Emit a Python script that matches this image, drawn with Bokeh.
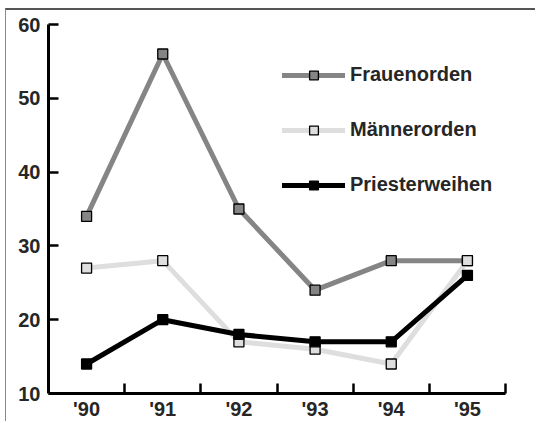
from bokeh.plotting import figure
from bokeh.models import FixedTicker, Range1d, Legend
from bokeh.embed import file_html
from bokeh.resources import INLINE

years = ["'90", "'91", "'92", "'93", "'94", "'95"]
frauenorden = [34, 56, 35, 24, 28, 28]
maennerorden = [27, 28, 17, 16, 14, 28]
priesterweihen = [14, 20, 18, 17, 17, 26]
y_ticks = [10, 20, 30, 40, 50, 60]

xs = [i + 0.5 for i in range(len(years))]

p = figure(width=530, height=413, output_backend="svg", toolbar_location=None,
           x_range=Range1d(0, len(years)), y_range=Range1d(10, 60),
           min_border_left=42, min_border_right=31, min_border_top=14, min_border_bottom=30,
           styles={"margin-left": "5px", "margin-top": "8px",
                   "border-left": "1px solid #8a8a8a", "border-top": "2px solid #555"})
p.outline_line_color = None
p.xgrid.visible = False
p.ygrid.visible = False
p.background_fill_color = "white"
p.border_fill_color = "white"

FONT = "Liberation Sans"
FSIZE = "20px"
TCOL = "#262626"

series = [
    ("Frauenorden", frauenorden, "#858585", "#858585", 5),
    ("Männerorden", maennerorden, "#dedede", "#dedede", 5),
    ("Priesterweihen", priesterweihen, "#000000", "#000000", 5),
]
items = []
for name, vals, lc, fc, lw in series:
    r1 = p.line(xs, vals, line_color=lc, line_width=lw, line_join="round", line_cap="round")
    r2 = p.scatter(xs, vals, marker="square", size=10, fill_color=fc, line_color="black", line_width=1.3)
    items.append((name, [r1, r2]))

legend = Legend(items=items, location=(234, 197), orientation="vertical")
legend.glyph_width = 63
legend.glyph_height = 22
legend.label_height = 22
legend.spacing = 32
legend.padding = 0
legend.margin = 0
legend.label_standoff = 5
legend.border_line_alpha = 0
legend.background_fill_alpha = 0
legend.label_text_font = FONT
legend.label_text_font_size = FSIZE
legend.label_text_font_style = "bold"
legend.label_text_color = TCOL
p.add_layout(legend)

xa = p.xaxis[0]
xa.ticker = FixedTicker(ticks=xs, minor_ticks=[1, 2, 3, 4, 5, 6])
xa.major_label_overrides = {x: y for x, y in zip(xs, years)}
xa.major_tick_in = 0
xa.major_tick_out = 0
xa.minor_tick_in = 10
xa.minor_tick_out = 0
xa.minor_tick_line_width = 2.5
xa.minor_tick_line_color = "black"
xa.axis_line_width = 3
xa.axis_line_color = "black"
xa.major_label_text_font = FONT
xa.major_label_text_font_size = FSIZE
xa.major_label_text_font_style = "bold"
xa.major_label_text_color = TCOL
xa.major_label_standoff = 4

ya = p.yaxis[0]
ya.ticker = FixedTicker(ticks=y_ticks, minor_ticks=[])
ya.major_tick_in = 10
ya.major_tick_out = 0
ya.major_tick_line_width = 2.5
ya.major_tick_line_color = "black"
ya.axis_line_width = 3
ya.axis_line_color = "black"
ya.major_label_text_font = FONT
ya.major_label_text_font_size = FSIZE
ya.major_label_text_font_style = "bold"
ya.major_label_text_color = TCOL
ya.major_label_standoff = 8

open("out.html", "w").write(file_html(p, INLINE))
